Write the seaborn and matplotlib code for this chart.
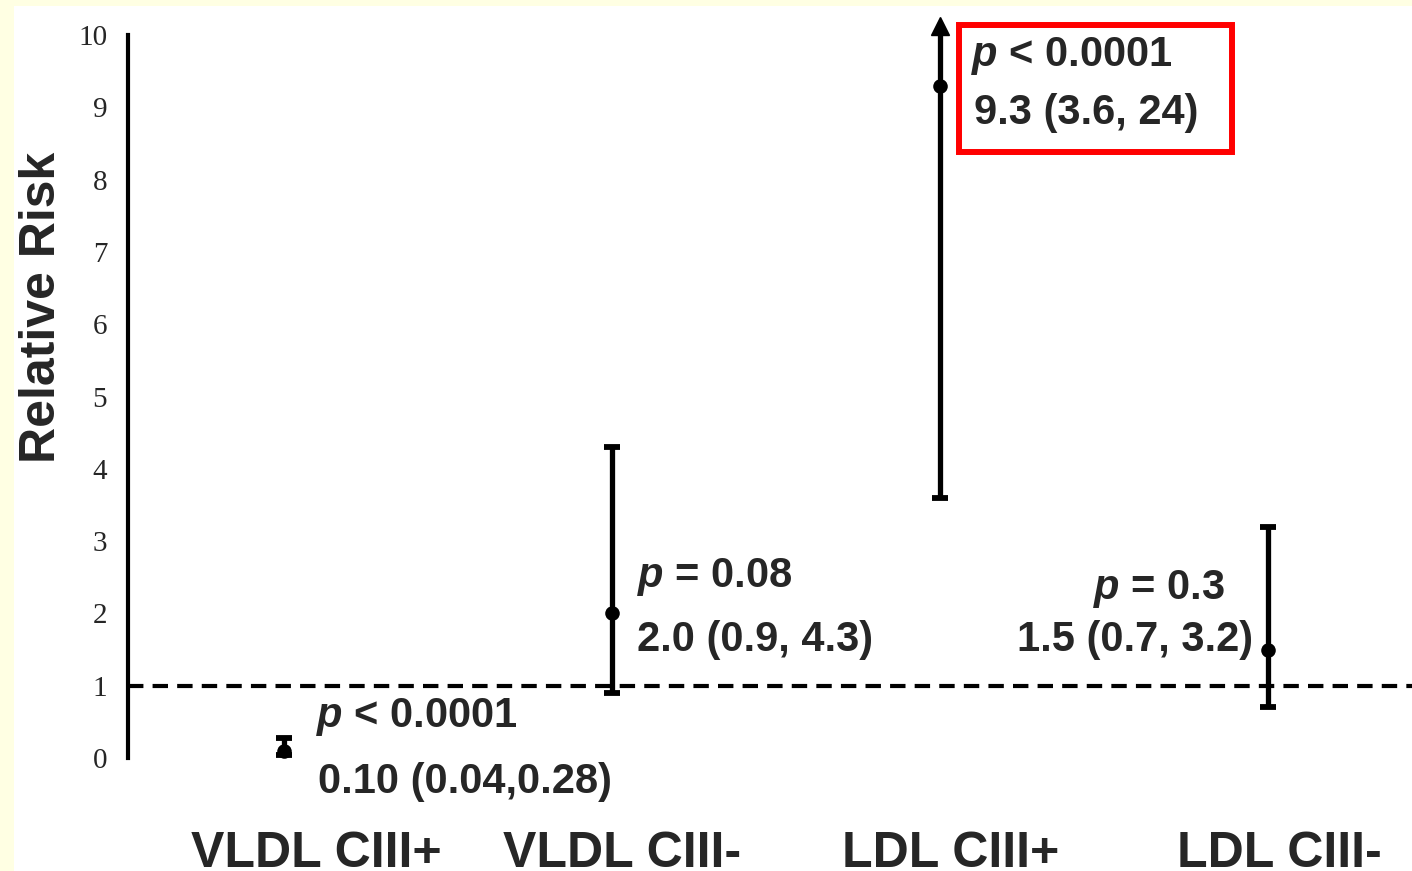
import numpy as np
import pandas as pd
import seaborn as sns
import matplotlib.pyplot as plt
from matplotlib.patches import Rectangle
from matplotlib.transforms import ScaledTranslation, IdentityTransform, Bbox

# values
groups = ["VLDL CIII+", "VLDL CIII-", "LDL CIII+", "LDL CIII-"]
rr = [0.10, 2.0, 9.3, 1.5]
ci_low = [0.04, 0.9, 3.6, 0.7]
ci_high = [0.28, 4.3, 24, 3.2]
p_labels = ["< 0.0001", "= 0.08", "< 0.0001", "= 0.3"]
est_labels = ["0.10 (0.04,0.28)", "2.0 (0.9, 4.3)", "9.3 (3.6, 24)", "1.5 (0.7, 3.2)"]
y_ticks = list(range(0, 11))
y_cut = 10.12  # intervals past the axis get an arrow here

sns.set_style("white")
plt.rcParams["font.family"] = ["Liberation Sans", "DejaVu Sans"]
plt.rcParams["mathtext.fontset"] = "custom"
plt.rcParams["mathtext.it"] = "Liberation Sans:italic:bold"

df = pd.DataFrame({"group": groups, "rr": rr, "lo": ci_low, "hi": ci_high,
                   "p": p_labels, "est": est_labels})
df["pos"] = np.arange(len(df))
df["hi_shown"] = np.minimum(df["hi"], y_cut)
df["cut"] = df["hi"] > y_cut

fig = plt.figure(figsize=(14.12, 8.71), dpi=100, facecolor="#FFFFE3")
# white plotting area, with the thin yellow strip on top and left
fig.patches.append(Rectangle((14 / 1412, 0), 1, 1 - 6 / 871, transform=fig.transFigure,
                             facecolor="white", edgecolor="none", zorder=-5))
ax = fig.add_axes([0.0907, 0.1048, 0.9093, 0.884])
ax.patch.set_alpha(0)

# reference line at RR = 1
ax.axhline(1, color="black", lw=3, dashes=(3.7, 2.2), zorder=1)

# confidence intervals
ax.vlines(df["pos"], df["lo"], df["hi_shown"], color="black", lw=3.8, zorder=3)
ax.plot(df["pos"], df["lo"], ls="none", marker="_", ms=12, mew=4.2, color="black", zorder=3)
ok = df[~df["cut"]]
ax.plot(ok["pos"], ok["hi"], ls="none", marker="_", ms=12, mew=4.2, color="black", zorder=3)
cut = df[df["cut"]]
ax.plot(cut["pos"], cut["hi_shown"], ls="none", marker="^", ms=13, color="black", zorder=3)

# point estimates
sns.scatterplot(data=df, x="pos", y="rr", color="black", s=110, edgecolor="black",
                linewidth=0, zorder=4, ax=ax, legend=False)

txt = dict(fontsize=30, fontweight="bold", textcoords="offset pixels", va="center")

# VLDL CIII+
ax.annotate(f"$p$ {df.p[0]}", (df.pos[0], rr[0]), xytext=(32, 34), ha="left", **txt)
ax.annotate(df.est[0], (df.pos[0], rr[0]), xytext=(34, -31), ha="left", **txt)
# VLDL CIII-
ax.annotate(f"$p$ {df.p[1]}", (df.pos[1], rr[1]), xytext=(25, 36), ha="left", **txt)
ax.annotate(df.est[1], (df.pos[1], rr[1]), xytext=(25, -27), ha="left", **txt)
# LDL CIII+ (boxed in red)
t1 = ax.annotate(f"$p$ {df.p[2]}", (df.pos[2], rr[2]), xytext=(31, 30), ha="left", **txt)
t2 = ax.annotate(df.est[2], (df.pos[2], rr[2]), xytext=(34, -27), ha="left", **txt)
# LDL CIII-
ax.annotate(f"$p$ {df.p[3]}", (df.pos[3], rr[3]), xytext=(-43, 61), ha="right", **txt)
ax.annotate(df.est[3], (df.pos[3], rr[3]), xytext=(-15, 10), ha="right", **txt)

ax.set_xlim(-0.476, 3.44)
ax.set_ylim(-0.3, 10.35)
ax.set_yticks(y_ticks)
ax.set_yticklabels([str(t) for t in y_ticks], fontfamily="Liberation Serif", fontsize=21)
ax.set_xticks(df["pos"])
ax.set_xticklabels(groups, fontsize=36, fontweight="bold")
ax.tick_params(axis="x", length=0, pad=37)
ax.tick_params(axis="y", direction="out", length=6, width=2.8, pad=9, color="black")
# category labels sit a little to the right of their intervals
for lab, dx in zip(ax.get_xticklabels(), [32, 10, 11, 12]):
    lab.set_transform(lab.get_transform() + ScaledTranslation(dx / 100, 0, fig.dpi_scale_trans))
ax.set_xlabel("")
ax.set_ylabel("Relative Risk", fontsize=36, fontweight="bold", va="center")
ax.yaxis.set_label_coords(-0.067, 0.614)

for side in ["top", "right", "bottom"]:
    ax.spines[side].set_visible(False)
ax.spines["left"].set_linewidth(3)
ax.spines["left"].set_color("black")
ax.spines["left"].set_bounds(0, 10)

# red frame around the LDL CIII+ annotation
fig.canvas.draw()
r = fig.canvas.get_renderer()
bb = Bbox.union([t1.get_window_extent(r), t2.get_window_extent(r)])
fig.add_artist(Rectangle((bb.x0 - 12, bb.y0 - 19), bb.width + 46, bb.height + 29,
                         transform=IdentityTransform(), fill=False, edgecolor="#FF0000",
                         lw=4.3, joinstyle="miter"))

fig.savefig("out.png", dpi=100, facecolor=fig.get_facecolor())
